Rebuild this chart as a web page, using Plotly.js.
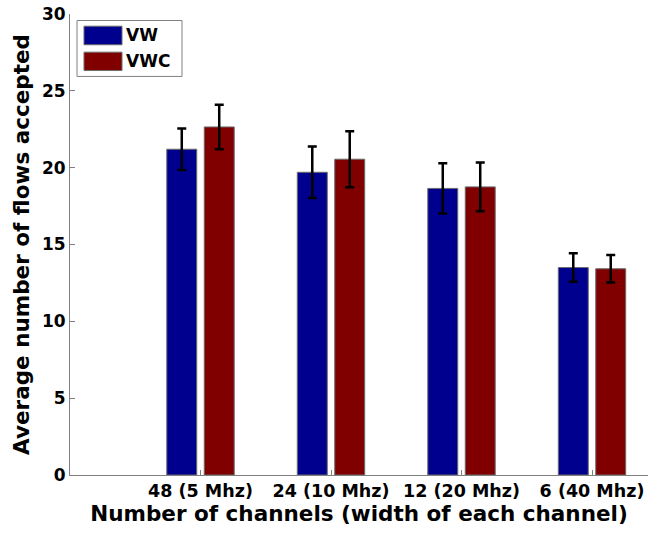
<!DOCTYPE html>
<html>
<head>
<meta charset="utf-8">
<script src="https://cdn.plot.ly/plotly-3.0.1.min.js"></script>
<style>html,body{margin:0;padding:0;background:#fff;}#chart{width:648px;height:533px;}</style>
</head>
<body>
<div id="chart"></div>
<script>
// ---- data ----
var categories = ["48 (5 Mhz)", "24 (10 Mhz)", "12 (20 Mhz)", "6 (40 Mhz)"];
var seriesNames = ["VW", "VWC"];
var vwValues = [21.2, 19.7, 18.65, 13.5];
var vwErrors = [1.35, 1.68, 1.64, 0.93];
var vwcValues = [22.65, 20.55, 18.75, 13.42];
var vwcErrors = [1.45, 1.82, 1.58, 0.9];
var yTicks = [0, 5, 10, 15, 20, 25, 30];

// ---- layout helpers ----
var W = 648, H = 533;
var L = 70, R = 648, T = 13.5, B = 475;
function px(x) { return (x - L) / (R - L); }
function py(y) { return (B - y) / (B - T); }

var positions = categories.map(function (c, i) { return i + 1; });
var font = { family: "DejaVu Sans, Liberation Sans, Arial, sans-serif", color: "#000", weight: 700 };
function f(size) { return Object.assign({ size: size }, font); }
var colors = ["#00008F", "#800000"];

var traces = [
  {
    type: "bar", name: seriesNames[0], x: positions, y: vwValues,
    marker: { color: colors[0], line: { color: "#6b6b6b", width: 1 } },
    error_y: { type: "data", array: vwErrors, visible: true, color: "#000", thickness: 2.5, width: 4.5 },
    showlegend: false, hoverinfo: "none"
  },
  {
    type: "bar", name: seriesNames[1], x: positions, y: vwcValues,
    marker: { color: colors[1], line: { color: "#6b6b6b", width: 1 } },
    error_y: { type: "data", array: vwcErrors, visible: true, color: "#000", thickness: 2.5, width: 4.5 },
    showlegend: false, hoverinfo: "none"
  }
];

// custom MATLAB-style legend
var shapes = [
  { type: "rect", xref: "paper", yref: "paper", x0: px(77), x1: px(182), y0: py(76), y1: py(20),
    line: { color: "#808080", width: 1 }, fillcolor: "#fff", layer: "above" },
  { type: "rect", xref: "paper", yref: "paper", x0: px(84), x1: px(122), y0: py(44.3), y1: py(25.7),
    line: { color: "#6b6b6b", width: 1 }, fillcolor: colors[0], layer: "above" },
  { type: "rect", xref: "paper", yref: "paper", x0: px(84), x1: px(122), y0: py(70), y1: py(51.7),
    line: { color: "#6b6b6b", width: 1 }, fillcolor: colors[1], layer: "above" }
];
var annotations = [
  { xref: "paper", yref: "paper", x: px(124), y: py(35), xanchor: "left", yanchor: "middle",
    text: seriesNames[0], showarrow: false, font: f(17) },
  { xref: "paper", yref: "paper", x: px(124), y: py(61), xanchor: "left", yanchor: "middle",
    text: seriesNames[1], showarrow: false, font: f(17) }
];

var layout = {
  width: W, height: H,
  margin: { l: L, r: W - R, t: T, b: H - B, pad: 0 },
  paper_bgcolor: "#fff", plot_bgcolor: "#fff",
  barmode: "group", bargap: 0.426, bargroupgap: 0.2,
  showlegend: false,
  font: font,
  xaxis: {
    range: [0, (R - L) / 130.5],
    tickvals: positions, ticktext: categories,
    ticks: "inside", ticklen: 5, tickcolor: "#808080", tickwidth: 1,
    showline: true, linecolor: "#808080", linewidth: 1,
    showgrid: false, zeroline: false, fixedrange: true,
    tickfont: f(17.5),
    ticklabeloverflow: "allow",
    title: { text: "Number of channels (width of each channel)", font: f(21.5), standoff: 2 },
    automargin: false
  },
  yaxis: {
    range: [0, 30],
    tickvals: yTicks,
    ticks: "inside", ticklen: 5, tickcolor: "#808080", tickwidth: 1,
    showline: true, linecolor: "#808080", linewidth: 1,
    showgrid: false, zeroline: false, fixedrange: true,
    tickfont: f(17),
    ticklabelstandoff: 0,
    title: { text: "Average number of flows accepted", font: f(21.5), standoff: 6 },
    automargin: false
  },
  shapes: shapes,
  annotations: annotations
};

Plotly.newPlot("chart", traces, layout, { displayModeBar: false, staticPlot: true });
</script>
</body>
</html>
